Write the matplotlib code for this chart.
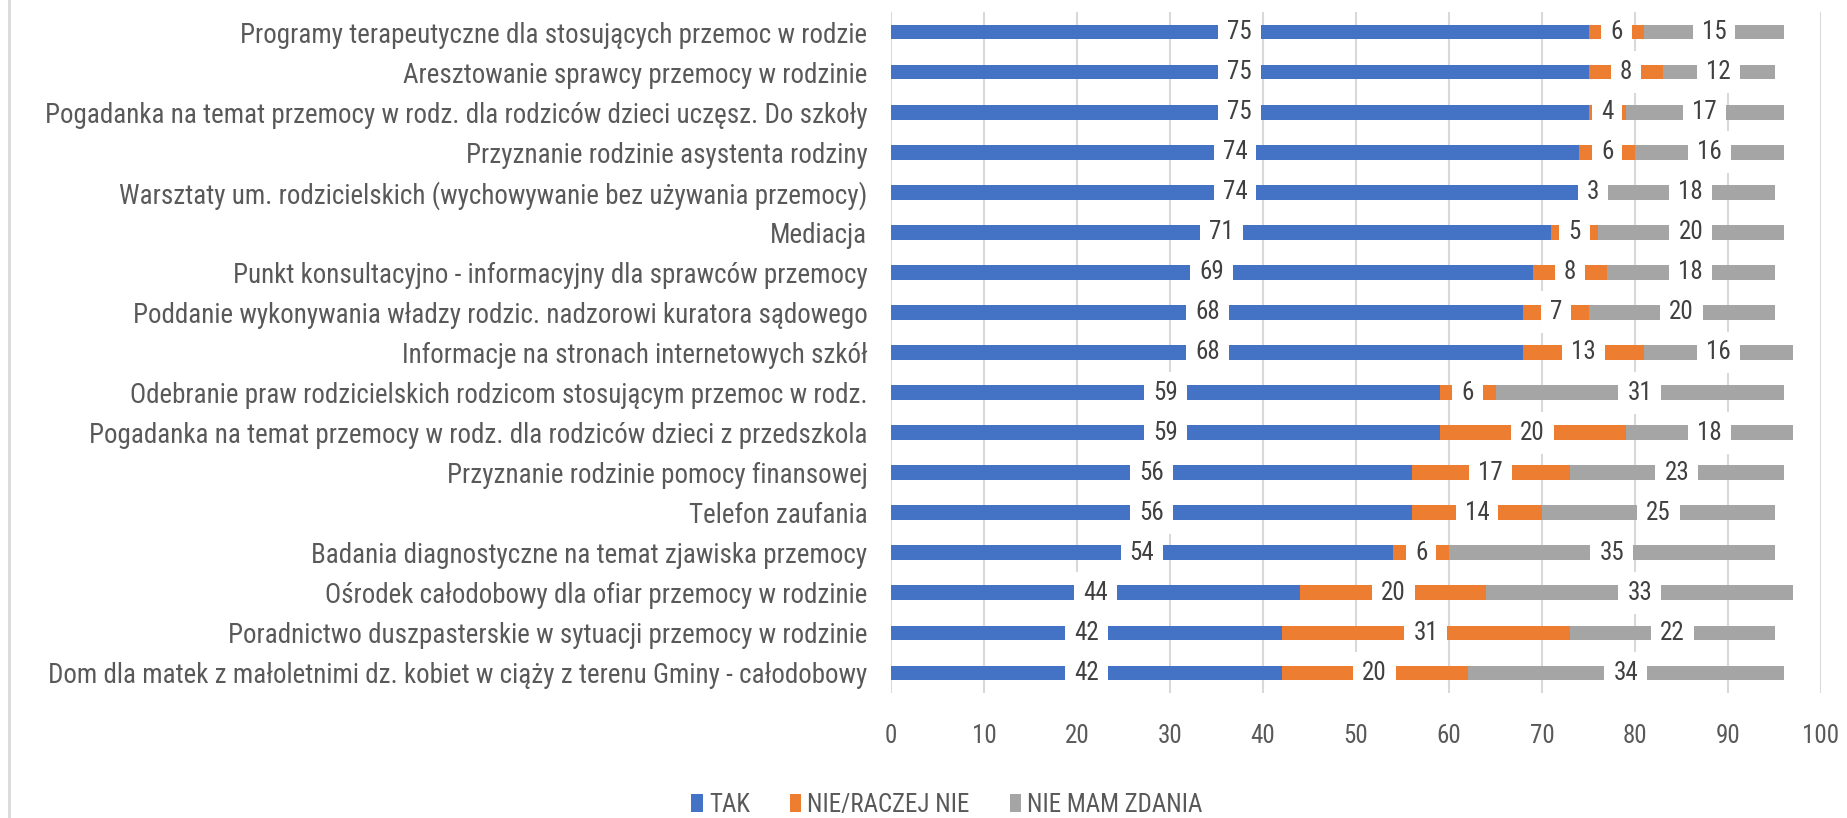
import matplotlib
matplotlib.use("Agg")
import matplotlib.pyplot as plt
from matplotlib import font_manager
from matplotlib.lines import Line2D
from matplotlib.patches import Patch

categories = [
    "Programy terapeutyczne dla stosujących przemoc w rodzie",
    "Aresztowanie sprawcy przemocy w rodzinie",
    "Pogadanka na temat przemocy w rodz. dla rodziców dzieci uczęsz. Do szkoły",
    "Przyznanie rodzinie asystenta rodziny",
    "Warsztaty um. rodzicielskich (wychowywanie bez używania przemocy)",
    "Mediacja",
    "Punkt konsultacyjno - informacyjny dla sprawców przemocy",
    "Poddanie wykonywania władzy rodzic. nadzorowi kuratora sądowego",
    "Informacje na stronach internetowych szkół",
    "Odebranie praw rodzicielskich rodzicom stosującym przemoc w rodz.",
    "Pogadanka na temat przemocy w rodz. dla rodziców dzieci z przedszkola",
    "Przyznanie rodzinie pomocy finansowej",
    "Telefon zaufania",
    "Badania diagnostyczne na temat zjawiska przemocy",
    "Ośrodek całodobowy dla ofiar przemocy w rodzinie",
    "Poradnictwo duszpasterskie w sytuacji przemocy w rodzinie",
    "Dom dla matek z małoletnimi dz. kobiet w ciąży z terenu Gminy - całodobowy",
]
tak = [75, 75, 75, 74, 74, 71, 69, 68, 68, 59, 59, 56, 56, 54, 44, 42, 42]
nie = [6, 8, 4, 6, 3, 5, 8, 7, 13, 6, 20, 17, 14, 6, 20, 31, 20]
brak = [15, 12, 17, 16, 18, 20, 18, 20, 16, 31, 18, 23, 25, 35, 33, 22, 34]
series_names = ["TAK", "NIE/RACZEJ NIE", "NIE MAM ZDANIA"]
colors = ["#4472C4", "#ED7D31", "#A5A5A5"]
xticks = [0, 10, 20, 30, 40, 50, 60, 70, 80, 90, 100]

available = {f.name for f in font_manager.fontManager.ttflist}
fam = None
for cand in ["Liberation Sans Narrow", "Roboto Condensed", "Open Sans Condensed", "Lato", "DejaVu Sans"]:
    if cand in available:
        fam = cand
        break
plt.rcParams["font.family"] = [fam, "DejaVu Sans"]

W, H = 1847, 818
fig = plt.figure(figsize=(W / 100, H / 100), dpi=100)
ax_l, ax_r = 891 / W, 1821 / W
ax_t, ax_b = 12 / H, 693 / H
ax = fig.add_axes([ax_l, 1 - ax_b, ax_r - ax_l, ax_b - ax_t])

# fit category font size so the longest label spans ~821 px
renderer = fig.canvas.get_renderer()
probe = fig.text(0, 0, categories[2], fontsize=20)
wpx = probe.get_window_extent(renderer).width
probe.remove()
cat_fs = 20 * 821 / wpx

probe = fig.text(0, 0, "100", fontsize=20)
wpx = probe.get_window_extent(renderer).width
probe.remove()
num_fs = 20 * 37 / wpx

ypos = list(range(len(categories)))
left = [0] * len(categories)
bar_h = 0.37
for vals, name, col in zip([tak, nie, brak], series_names, colors):
    bars = ax.barh(ypos, vals, left=left, height=bar_h, color=col, label=name, zorder=2)
    for y, v, l in zip(ypos, vals, left):
        ax.text(l + v / 2, y, str(v), ha="center", va="center", fontsize=num_fs,
                color="#404040", zorder=3,
                bbox=dict(facecolor="white", edgecolor="none", pad=6.5))
    left = [a + b for a, b in zip(left, vals)]

ax.set_xlim(0, 100)
ax.set_ylim(len(categories) - 0.5, -0.5)
ax.set_yticks(ypos)
ax.set_yticklabels(categories, fontsize=cat_fs, color="#595959")
ax.set_xticks(xticks)
ax.set_xticklabels([str(t) for t in xticks], fontsize=num_fs, color="#595959")
ax.tick_params(axis="both", length=0)
ax.tick_params(axis="y", pad=17)
ax.tick_params(axis="x", pad=22)
ax.grid(axis="x", color="#D9D9D9", linewidth=1.5, zorder=0)
ax.set_axisbelow(True)
for s in ax.spines.values():
    s.set_visible(False)

handles = [Patch(facecolor=c, edgecolor="none") for c in colors]
leg = fig.legend(handles, series_names, loc="center", bbox_to_anchor=(947 / W, 1 - 805 / H),
                 ncol=3, frameon=False, fontsize=num_fs, labelcolor="#595959",
                 handlelength=0.45, handleheight=0.75, handletextpad=0.25, columnspacing=1.6)

fig.add_artist(Line2D([9 / W, 9 / W], [0, 1], color="#D9D9D9", linewidth=2, transform=fig.transFigure))

fig.savefig("out.png", dpi=100, facecolor="white")
